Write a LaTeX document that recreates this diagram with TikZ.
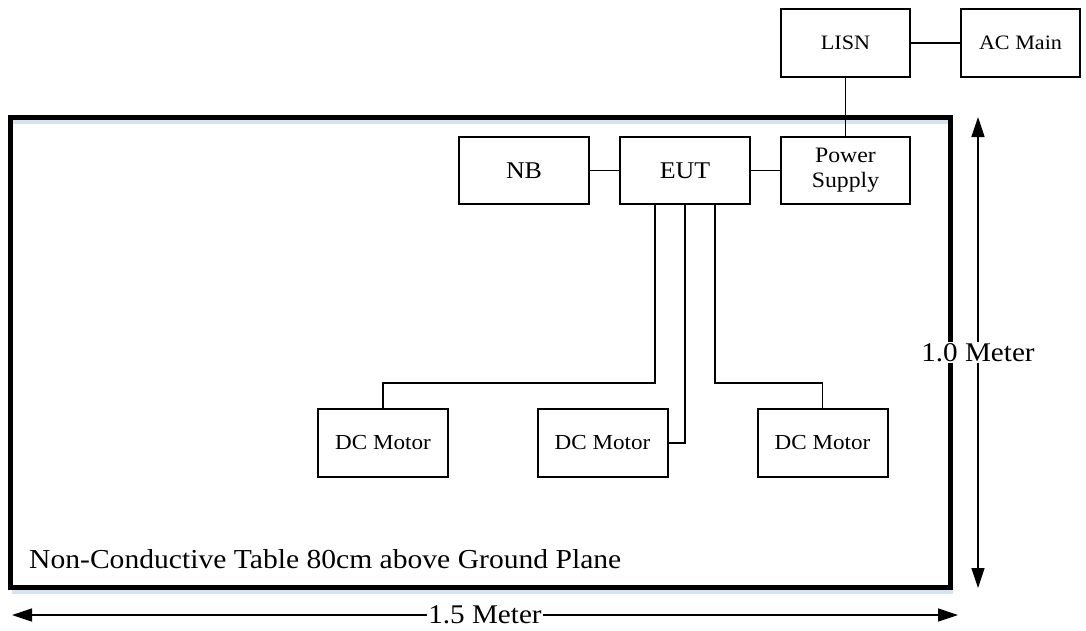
\documentclass[tikz,border=0pt]{standalone}
\usepackage{fontspec}
\setmainfont[FakeStretch=1.08]{Liberation Serif}
\usetikzlibrary{arrows.meta}
\definecolor{shadowblue}{RGB}{214,228,242}

\begin{document}
\begin{tikzpicture}[x=1pt, y=-1pt,
  blk/.style={draw, line width=2pt, minimum width=130pt, minimum height=67pt, inner sep=0pt, align=center},
  wire/.style={line width=1.4pt},
  dimline/.style={line width=1.4pt, {Triangle[length=20pt,width=13pt]}-{Triangle[length=20pt,width=13pt]}},
  dimlabel/.style={fill=white, inner sep=1pt, font=\fontsize{27}{29}\selectfont}]

\useasboundingbox (0,0) rectangle (1086,630);

% table with its shadow
\draw [shadowblue, line width=4pt] (13,121.5) -- (948,121.5);
\draw [shadowblue, line width=4pt] (12,592) -- (953,592);
\draw [line width=5pt] (10.5,117) rectangle (950,587);
\node [anchor=base west, inner sep=0pt, font=\fontsize{27.4}{29}\selectfont] (tabtext) at (29,568) {Non-Conductive Table 80cm above Ground Plane};

% outside the table
\node [blk, minimum width=129pt, minimum height=68pt, font=\fontsize{20.5}{22}\selectfont] (lisn) at (845.5,43) {LISN};
\node [blk, minimum width=119pt, minimum height=68pt, font=\fontsize{20.5}{22}\selectfont] (acmain) at (1020.5,43) {AC Main};

% on the table
\node [blk, font=\fontsize{24}{26}\selectfont] (nb) at (524,170.5) {NB};
\node [blk, font=\fontsize{24}{26}\selectfont] (eut) at (685,170.5) {EUT};
\node [blk, minimum width=129pt, font=\fontsize{22}{25}\selectfont] (psu) at (845.5,170.5) {Power\\Supply};

\node [blk, minimum height=68pt, font=\fontsize{21.4}{23}\selectfont] (motA) at (383,443) {DC Motor};
\node [blk, minimum height=68pt, font=\fontsize{21.4}{23}\selectfont] (motB) at (602.5,443) {DC Motor};
\node [blk, minimum height=68pt, font=\fontsize{21.4}{23}\selectfont] (motC) at (822.5,443) {DC Motor};

% wiring
\draw [wire] (lisn.east) -- (acmain.west);
\draw [wire] (lisn.south) -- (psu.north);
\draw [wire] (nb.east) -- (eut.west);
\draw [wire] (eut.east) -- (psu.west);
\draw [wire] ([xshift=-30pt]eut.south) -- ++(0,178) -| (motA.north);
\draw [wire] (eut.south) |- (motB.east);
\draw [wire] ([xshift=30pt]eut.south) -- ++(0,178) -| (motC.north);

% dimensions
\coordinate (dimtop) at (978,117);
\coordinate (dimbot) at (978,588);
\coordinate (dimleft) at (12,615);
\coordinate (dimright) at (958,615);
\draw [dimline] (dimtop) -- (dimbot) node [midway, dimlabel] (hlabel) {1.0 Meter};
\draw [dimline] (dimleft) -- (dimright) node [midway, dimlabel] (wlabel) {1.5 Meter};

\end{tikzpicture}
\end{document}
